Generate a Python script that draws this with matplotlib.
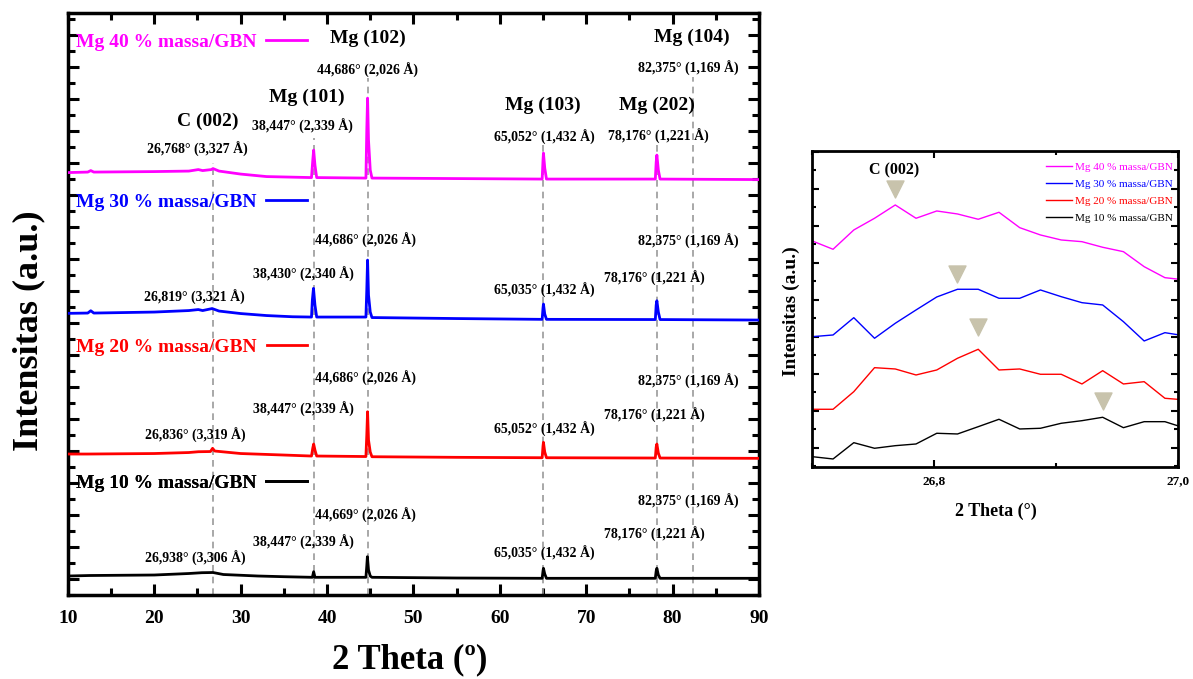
import numpy as np
import matplotlib
matplotlib.use("Agg")
import matplotlib.pyplot as plt
from matplotlib import ticker
from matplotlib.lines import Line2D

plt.rcParams['font.family'] = ['Liberation Serif', 'DejaVu Serif']
plt.rcParams['font.weight'] = 'bold'

# ---- main XRD patterns (2 theta, stacked intensity a.u.) ----
tt_40 = [10.0, 12.3, 12.65, 13.0, 20.0, 24.0, 25.1, 25.6, 26.6, 26.8, 27.5, 30.0, 33.0,
         38.2, 38.35, 38.45, 38.6, 38.8, 44.5, 44.6, 44.69, 44.8, 45.0, 45.2, 55.0,
         64.9, 65.0, 65.05, 65.2, 65.4, 78.0, 78.1, 78.18, 78.35, 78.55, 90.0]
i_40 = [427.5, 428, 429.5, 428, 428.5, 429, 430.5, 429.5, 430.5, 431.5, 429, 426, 423.5,
        422.5, 440, 450, 435, 422.5, 422, 470, 502, 460, 430, 422, 421.5,
        421, 440, 447, 432, 421, 421, 438, 445, 430, 421, 420.5]

tt_30 = [10.0, 12.3, 12.65, 13.0, 20.0, 24.0, 25.1, 25.6, 26.7, 27.5, 30.0, 33.0, 36.0,
         38.2, 38.3, 38.43, 38.6, 38.8, 44.5, 44.6, 44.69, 44.8, 45.0, 45.2, 55.0,
         64.9, 65.0, 65.05, 65.2, 65.4, 78.0, 78.1, 78.18, 78.35, 78.55, 90.0]
i_30 = [286.7, 287, 289.3, 287, 288, 289.5, 290.5, 289.5, 291.5, 289, 286.5, 284.5, 283.3,
        283, 300, 311.7, 295, 283, 283, 310, 340, 305, 288, 282.5, 281.5,
        280.7, 292, 296, 286, 280.7, 280.5, 295, 299.3, 288, 280.5, 280]

tt_20 = [10.0, 12.3, 20.0, 24.0, 25.1, 26.5, 26.75, 27.0, 30.0, 35.0,
         38.2, 38.35, 38.45, 38.6, 38.8, 44.5, 44.6, 44.69, 44.8, 45.0, 45.2, 55.0,
         64.9, 65.0, 65.05, 65.2, 65.4, 78.0, 78.1, 78.18, 78.35, 78.55, 90.0]
i_20 = [146, 146, 146.5, 147.5, 148.3, 148.5, 151.7, 149, 146.5, 145,
        144, 152, 156, 150, 144, 143.5, 165, 188.3, 160, 148, 143.3, 142.7,
        142.3, 154, 157.7, 148, 142.3, 142, 153, 156, 147, 142, 141.7]

tt_10 = [10.0, 12.5, 20.0, 24.0, 25.5, 26.8, 28.0, 32.0, 35.0,
         38.3, 38.45, 38.6, 44.5, 44.6, 44.67, 44.8, 45.0, 45.2, 55.0,
         64.9, 65.0, 65.05, 65.2, 65.4, 78.0, 78.1, 78.18, 78.35, 78.55, 90.0]
i_10 = [24, 24.5, 25, 26.5, 27.3, 27.5, 25.5, 24, 23.3,
        22.7, 28.3, 22.7, 22.7, 34, 43.3, 30, 24, 22.7, 22,
        21.7, 29, 31.7, 26, 21.7, 21.7, 29, 31.7, 25, 21.7, 21.7]

series_names = ["Mg 40 % massa/GBN", "Mg 30 % massa/GBN",
                "Mg 20 % massa/GBN", "Mg 10 % massa/GBN"]
series_colors = ["#ff00ff", "#0000ff", "#ff0000", "#000000"]

# reflections
hkl = ["C (002)", "Mg (101)", "Mg (102)", "Mg (103)", "Mg (202)", "Mg (104)"]
ref_2t = [26.768, 38.447, 44.686, 65.052, 78.176, 82.375]

peak_labels = [
    ["26,768° (3,327 Å)", "38,447° (2,339 Å)", "44,686° (2,026 Å)",
     "65,052° (1,432 Å)", "78,176° (1,221 Å)", "82,375° (1,169 Å)"],
    ["26,819° (3,321 Å)", "38,430° (2,340 Å)", "44,686° (2,026 Å)",
     "65,035° (1,432 Å)", "78,176° (1,221 Å)", "82,375° (1,169 Å)"],
    ["26,836° (3,319 Å)", "38,447° (2,339 Å)", "44,686° (2,026 Å)",
     "65,052° (1,432 Å)", "78,176° (1,221 Å)", "82,375° (1,169 Å)"],
    ["26,938° (3,306 Å)", "38,447° (2,339 Å)", "44,669° (2,026 Å)",
     "65,035° (1,432 Å)", "78,176° (1,221 Å)", "82,375° (1,169 Å)"],
]

# ---- inset: zoom on C (002) ----
tt_zoom = [26.700, 26.717, 26.734, 26.751, 26.768, 26.785, 26.802, 26.819, 26.836,
           26.853, 26.870, 26.887, 26.904, 26.921, 26.938, 26.955, 26.972, 26.989, 27.006]
z_40 = [229, 220.7, 240, 251.7, 265, 251.7, 259, 256, 250.7, 257.7, 242.3, 235, 230,
        228.3, 222.7, 218.3, 203.3, 192.3, 190]
z_30 = [133.3, 135, 152.3, 131.7, 146.7, 160, 173, 180.7, 180.7, 171.7, 171.7, 180,
        173.3, 167.3, 165, 148.3, 129, 137.3, 134]
z_20 = [60.7, 60.7, 78.3, 102.3, 101, 95, 100, 111.7, 120.7, 100, 101, 95.7, 95.7,
        86, 99.3, 86, 88.3, 71.7, 70]
z_10 = [13.3, 11, 27.3, 21.7, 24.3, 26, 36.7, 36, 43.3, 50.7, 41, 41.7, 46.7, 49.3,
        52.7, 42.3, 48.3, 48.3, 41.7]
c002_peak = [26.768, 26.819, 26.836, 26.938]
c002_mark = [281, 196, 143, 69]

fig = plt.figure(figsize=(11.93, 6.79), dpi=100)
ax = fig.add_axes([0.0569, 0.1237, 0.5793, 0.857])

curves = [(tt_40, i_40), (tt_30, i_30), (tt_20, i_20), (tt_10, i_10)]
for (t, y), c in zip(curves, series_colors):
    ax.plot(t, y, color=c, lw=2.0, zorder=3)

ax.set_xlim(10, 90)
ax.set_ylim(5, 587)

# dashed guides
guide_top = [437, 462, 522, 457, 458, 523]
ax.vlines(ref_2t, 5, guide_top, colors='#999999', linestyles=(0, (4, 3)), lw=1.2, zorder=2)

# reflection names
hkl_x = [26.2, 37.67, 44.73, 64.99, 78.18, 82.2]
hkl_y = [479, 503, 562, 495, 495, 563]
for s, x, y in zip(hkl, hkl_x, hkl_y):
    ax.text(x, y, s, ha='center', va='center', fontsize=14, fontweight='bold')

# angle / d-spacing labels per series
lab_x = [[24.94, 37.2, 44.73, 65.1, 78.3, 81.77],
         [24.7, 37.3, 44.4, 65.1, 77.84, 81.77],
         [24.7, 37.3, 44.4, 65.1, 77.84, 81.77],
         [24.7, 37.3, 44.4, 65.1, 77.84, 81.77]]
lab_y = [[451, 474, 530, 463, 464, 532],
         [303, 326, 360, 310, 322, 359],
         [165, 191, 222, 171, 185, 219],
         [42, 58, 85, 47, 66, 99]]
for labs, xs, ys in zip(peak_labels, lab_x, lab_y):
    for s, x, y in zip(labs, xs, ys):
        ax.text(x, y, s, ha='center', va='center', fontsize=10, fontweight='bold')

# series "legends" (text then line)
leg_y = [0.950, 0.675, 0.426, 0.192]
for name, c, y in zip(series_names, series_colors, leg_y):
    h = Line2D([], [], color=c, lw=2)
    lg = ax.legend([h], [name], loc='center left', bbox_to_anchor=(0.012, y),
                   frameon=False, markerfirst=False, handlelength=2.1,
                   handletextpad=0.5, borderpad=0, borderaxespad=0,
                   prop={'size': 14, 'weight': 'bold'}, labelcolor=c)
    ax.add_artist(lg)

ax.xaxis.set_major_locator(ticker.MultipleLocator(10))
ax.xaxis.set_minor_locator(ticker.MultipleLocator(5))
ax.yaxis.set_major_locator(ticker.MultipleLocator(32, offset=21))
ax.yaxis.set_minor_locator(ticker.MultipleLocator(16, offset=5))
ax.tick_params(which='both', direction='in', top=True, right=True, width=2.2)
ax.tick_params(which='major', length=8)
ax.tick_params(which='minor', length=5)
ax.tick_params(axis='y', labelleft=False)
ax.tick_params(axis='x', labelsize=14, pad=11)
for lab in ax.get_xticklabels():
    lab.set_fontweight('bold')
for sp in ax.spines.values():
    sp.set_linewidth(2.5)

ax.set_xlabel("2 Theta (º)", fontsize=25, fontweight='bold')
ax.xaxis.set_label_coords(0.495, -0.083)
ax.set_ylabel("Intensitas (a.u.)", fontsize=26, fontweight='bold')
ax.yaxis.set_label_coords(-0.033, 0.455)

# ---- inset ----
ax2 = fig.add_axes([0.6809, 0.3127, 0.3068, 0.4654])
zooms = [z_40, z_30, z_20, z_10]
for z, c, name in zip(zooms, series_colors, series_names):
    ax2.plot(tt_zoom, z, color=c, lw=1.0, label=name)
ax2.scatter(c002_peak, c002_mark, marker='v', s=150, color='#c8c3ac', zorder=4)
ax2.text(26.767, 300, "C (002)", ha='center', va='center', fontsize=11.5, fontweight='bold')

ax2.set_xlim(26.70, 27.0)
ax2.set_ylim(3.3, 319.3)
ax2.xaxis.set_major_locator(ticker.MultipleLocator(0.2))
ax2.xaxis.set_minor_locator(ticker.MultipleLocator(0.1))
ax2.xaxis.set_major_formatter(ticker.FuncFormatter(lambda v, p: f"{v:.1f}".replace('.', ',')))
ax2.yaxis.set_major_locator(ticker.MultipleLocator(37, offset=22))
ax2.yaxis.set_minor_locator(ticker.MultipleLocator(18.5, offset=3.5))
ax2.tick_params(which='both', direction='in', top=True, right=True, width=1.5)
ax2.tick_params(which='major', length=5)
ax2.tick_params(which='minor', length=3)
ax2.tick_params(axis='y', labelleft=False)
ax2.tick_params(axis='x', labelsize=9.5, pad=6)
for lab in ax2.get_xticklabels():
    lab.set_fontweight('bold')
for sp in ax2.spines.values():
    sp.set_linewidth(2)

leg2 = ax2.legend(loc='upper right', bbox_to_anchor=(0.985, 0.965), frameon=False,
                  handlelength=2.4, handletextpad=0.25, labelspacing=0.65,
                  borderpad=0, borderaxespad=0,
                  prop={'size': 8, 'weight': 'normal'}, labelcolor='linecolor')

ax2.set_xlabel("2 Theta (°)", fontsize=13, fontweight='bold')
ax2.xaxis.set_label_coords(0.502, -0.115)
ax2.set_ylabel("Intensitas (a.u.)", fontsize=14, fontweight='bold')
ax2.yaxis.set_label_coords(-0.035, 0.493)

fig.savefig("out.png", dpi=100)
